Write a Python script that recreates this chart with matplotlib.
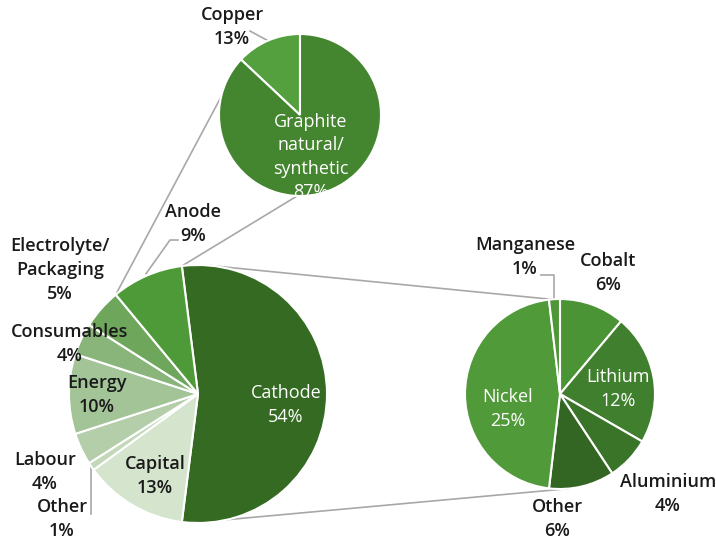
import numpy as np
import matplotlib
matplotlib.use('Agg')
import matplotlib.pyplot as plt

plt.rcParams['font.family'] = ['Open Sans', 'DejaVu Sans']

# battery cell cost breakdown (%)
main_labels = ['Cathode', 'Capital', 'Other', 'Labour', 'Energy',
               'Consumables', 'Electrolyte/\nPackaging', 'Anode']
main_values = [54, 13, 1, 4, 10, 4, 5, 9]
main_colors = ['#356a22', '#d4e4cd', '#c2d8b9', '#b3cea9', '#a3c497',
               '#89b57b', '#6ea75c', '#4f9a38']

# anode breakdown (% of anode)
anode_labels = ['Copper', 'Graphite\nnatural/\nsynthetic']
anode_values = [13, 87]
anode_colors = ['#55a03e', '#44852f']

# cathode breakdown (% of total cell)
cath_labels = ['Cobalt', 'Lithium', 'Aluminium', 'Other', 'Nickel', 'Manganese']
cath_values = [6, 12, 4, 6, 25, 1]
cath_colors = ['#4a9435', '#407f2e', '#3a7428', '#336523', '#519a3a', '#4e9637']

W, H = 716, 540


def P(x, y):
    # pixel coords (y down) -> data coords (y up)
    return (x, H - y)


def on_circle(c, r, ang):
    a = np.deg2rad(ang)
    return (c[0] + r * np.cos(a), c[1] + r * np.sin(a))


fig = plt.figure(figsize=(W / 100, H / 100), dpi=100)
ax = fig.add_axes([0, 0, 1, 1])

c_main, r_main = P(198, 394), 129
c_top, r_top = P(300, 115), 81
c_right, r_right = P(560, 394), 95

wp = dict(edgecolor='white', linewidth=1.5)
w_main, _ = ax.pie(main_values, colors=main_colors, center=c_main, radius=r_main,
                   startangle=97.2, counterclock=False, wedgeprops=wp)
w_top, _ = ax.pie(anode_values, colors=anode_colors, center=c_top, radius=r_top,
                  startangle=90, counterclock=True, wedgeprops=wp)
w_right, _ = ax.pie(cath_values, colors=cath_colors, center=c_right, radius=r_right,
                    startangle=90, counterclock=False, wedgeprops=wp)

ax.set_xlim(0, W)
ax.set_ylim(0, H)
ax.set_aspect('equal')
ax.axis('off')

line_kw = dict(color='#a8a8a8', linewidth=1.2, zorder=0)

# connectors: anode -> top pie
anode_w = w_main[7]
p1 = on_circle(c_main, r_main, anode_w.theta2)
p2 = on_circle(c_top, r_top, w_top[0].theta2)
ax.plot([p1[0], p2[0]], [p1[1], p2[1]], **line_kw)
p1 = on_circle(c_main, r_main, anode_w.theta1)
p2 = on_circle(c_top, r_top, 268)
ax.plot([p1[0], p2[0]], [p1[1], p2[1]], **line_kw)

# connectors: cathode -> right pie
p1 = on_circle(c_main, r_main, 84)
p2 = on_circle(c_right, r_right, 95)
ax.plot([p1[0], p2[0]], [p1[1], p2[1]], **line_kw)
p1 = on_circle(c_main, r_main, -77)
p2 = on_circle(c_right, r_right, -85)
ax.plot([p1[0], p2[0]], [p1[1], p2[1]], **line_kw)

fs = 13
out_kw = dict(fontsize=fs, fontweight='semibold', color='#1a1a1a',
              ha='center', va='center', linespacing=1.4)
in_kw = dict(fontsize=fs, color='white', ha='center', va='center', linespacing=1.4)


def lbl(x, y, text, inside=False):
    ax.text(*P(x, y), text, **(in_kw if inside else out_kw))


def pct(names, vals, i):
    return f'{names[i]}\n{vals[i]}%'


# main pie labels
lbl(286, 405, pct(main_labels, main_values, 0), inside=True)
lbl(155, 476, pct(main_labels, main_values, 1))
lbl(62, 519, pct(main_labels, main_values, 2))
lbl(45, 472, pct(main_labels, main_values, 3))
lbl(97, 395, pct(main_labels, main_values, 4))
lbl(70, 344, pct(main_labels, main_values, 5))
lbl(60, 270, pct(main_labels, main_values, 6))
lbl(193, 224, pct(main_labels, main_values, 7))

# top pie labels
lbl(232, 27, pct(anode_labels, anode_values, 0))
lbl(311, 157, pct(anode_labels, anode_values, 1), inside=True)

# right pie labels
lbl(608, 273, pct(cath_labels, cath_values, 0))
lbl(618, 389, pct(cath_labels, cath_values, 1), inside=True)
lbl(668, 494, pct(cath_labels, cath_values, 2))
lbl(557, 519, pct(cath_labels, cath_values, 3))
lbl(508, 409, pct(cath_labels, cath_values, 4), inside=True)
lbl(525, 257, pct(cath_labels, cath_values, 5))

# leader lines
lead_kw = dict(color='#a8a8a8', linewidth=1.2, zorder=0)
m = (anode_w.theta1 + anode_w.theta2) / 2
e = on_circle(c_main, r_main + 2, m)
ax.plot([P(178, 240)[0], P(170, 240)[0], e[0]], [P(178, 240)[1], P(170, 240)[1], e[1]], **lead_kw)

ow = w_main[2]
e = on_circle(c_main, r_main, (ow.theta1 + ow.theta2) / 2)
ax.plot([e[0], e[0]], [e[1], P(0, 514)[1]], **lead_kw)

mw = w_right[5]
e = on_circle(c_right, r_right, (mw.theta1 + mw.theta2) / 2)
ax.plot([P(541, 275)[0], e[0], e[0]], [P(541, 275)[1], P(541, 275)[1], e[1]], **lead_kw)

cw = w_top[0]
e = on_circle(c_top, r_top, (cw.theta1 + cw.theta2) / 2)
ax.plot([P(250, 31)[0], e[0]], [P(250, 31)[1], e[1]], **lead_kw)

fig.savefig('out.png', dpi=100)
